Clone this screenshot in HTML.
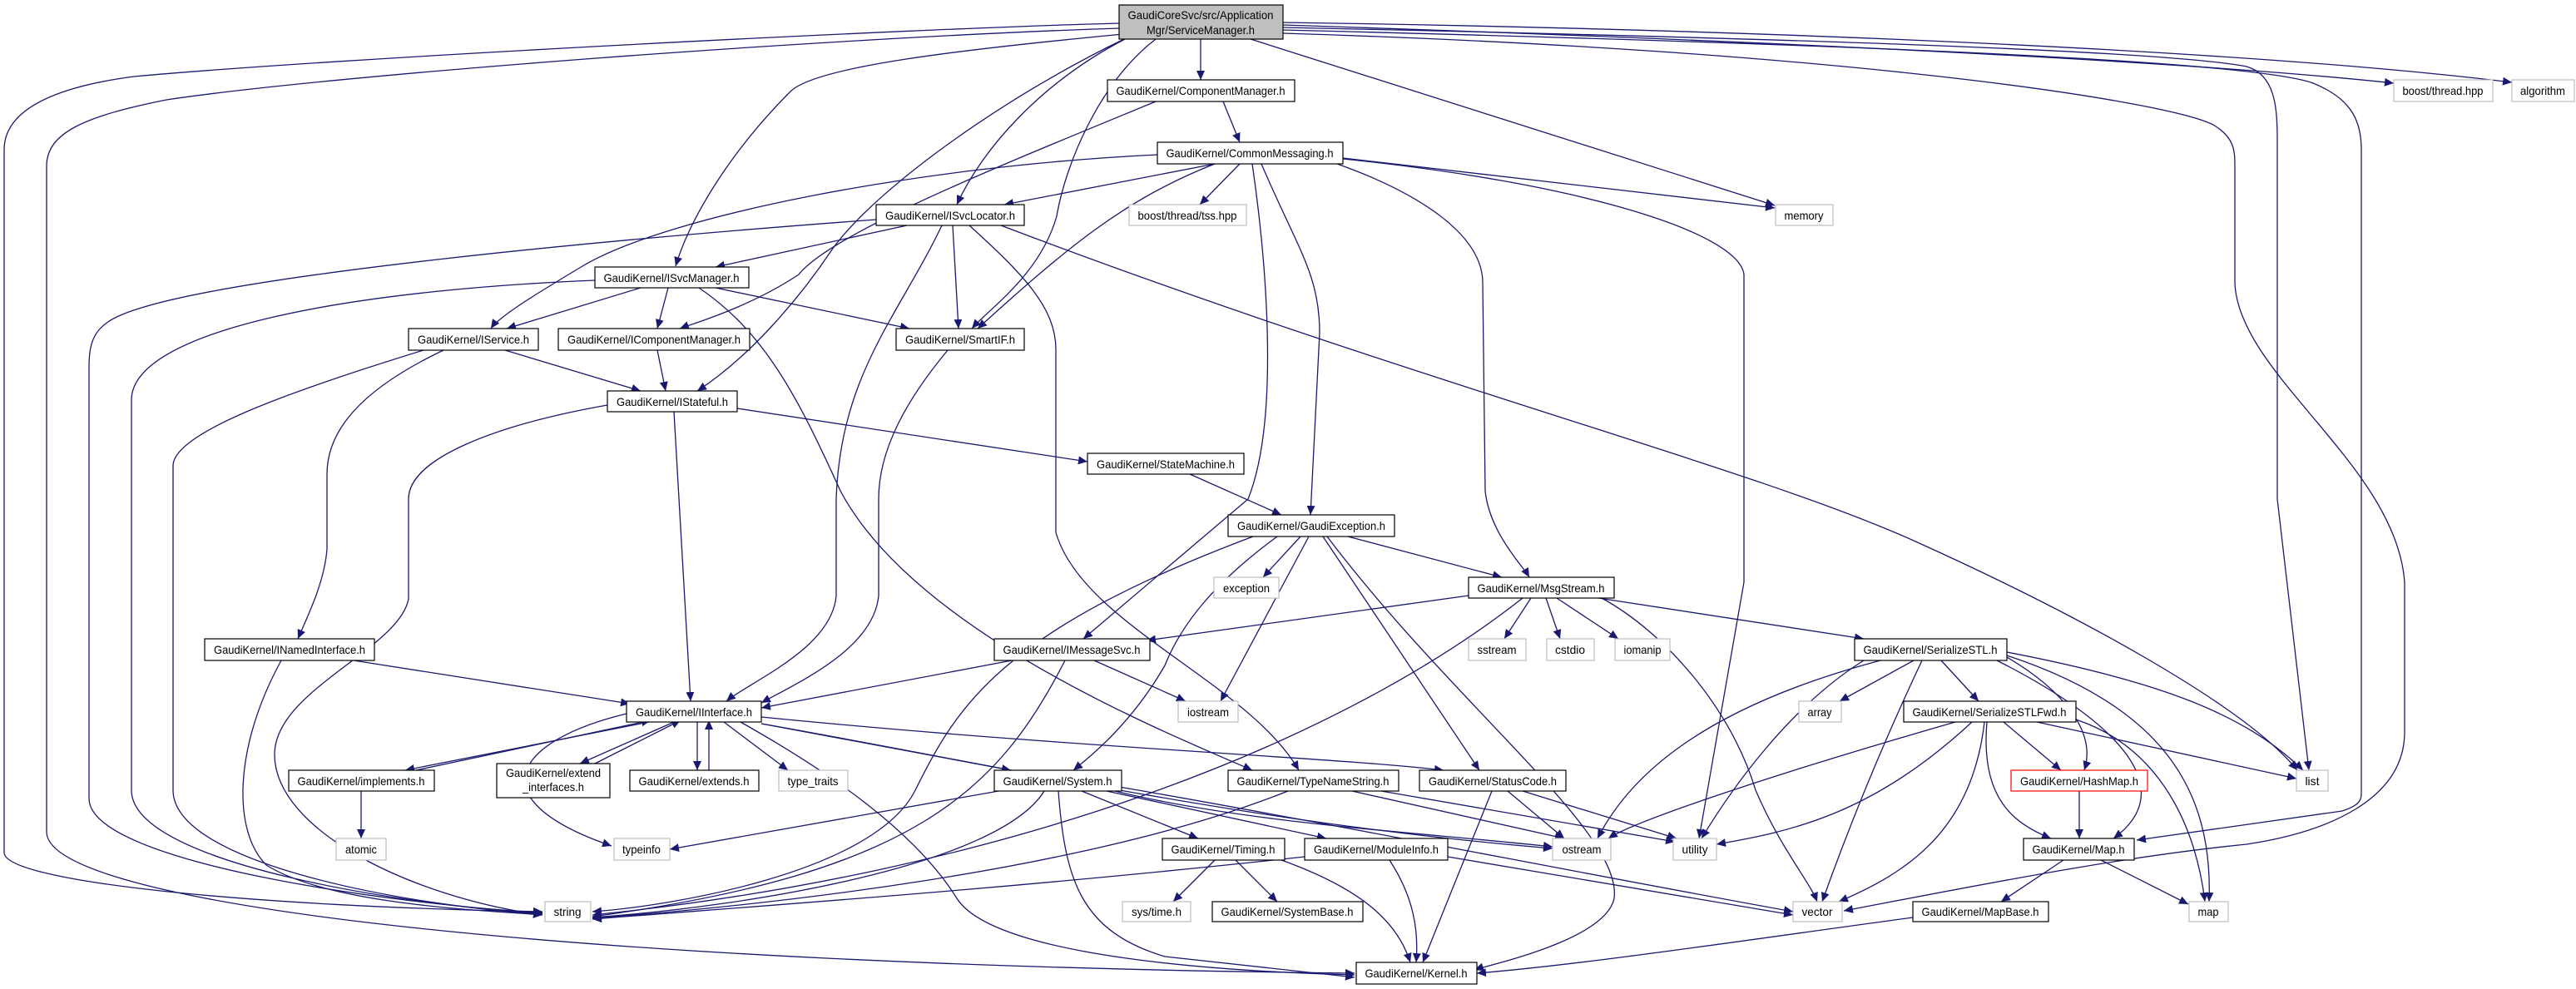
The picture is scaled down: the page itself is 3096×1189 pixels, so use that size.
<!DOCTYPE html>
<html><head><meta charset="utf-8"><style>
html,body{margin:0;padding:0;background:#fff;}
svg{display:block;}
text{font-family:"Liberation Sans",sans-serif;font-size:14px;fill:#000;}
.e{fill:none;stroke:#191970;stroke-width:1.3;}
.n{fill:#fff;stroke:#000;stroke-width:1.2;}
.g{fill:#fff;stroke:#bfbfbf;stroke-width:1.2;}
</style></head><body>
<svg width="3096" height="1189" viewBox="0 0 3096 1189" xmlns="http://www.w3.org/2000/svg">
<defs><marker id="a" markerUnits="userSpaceOnUse" markerWidth="12" markerHeight="10" refX="11" refY="5" orient="auto"><path d="M0,0 L11,5 L0,10 z" fill="#191970"/></marker></defs>
<g class="e" marker-end="url(#a)">
<path d="M1345,28 C1100,34 400,70 161,92 C100,100 5,120 5,180 L5,1025 C5,1060 300,1090 652,1096"/>
<path d="M1345,34 C1000,45 400,90 200,120 C100,140 56,160 56,200 L56,1000 C56,1090 700,1160 1628,1170"/>
<path d="M1360,40 C1150,60 980,80 950,110 C880,180 830,260 812,320"/>
<path d="M1352,47 C1250,100 1180,180 1150,246"/>
<path d="M1389,47 C1320,100 1280,200 1270,260 C1250,330 1190,370 1168,395"/>
<path d="M1351,47 C1200,120 1050,230 1000,300 C960,360 900,430 838,470"/>
<path d="M1443,47 L1443,96"/>
<path d="M1503,47 L2133,247"/>
<path d="M1542,30 C2000,45 2600,70 2877,100"/>
<path d="M1542,27 C2100,35 2700,60 3019,99"/>
<path d="M1542,33 C2100,45 2600,60 2700,80 C2735,90 2737,130 2737,170 L2737,600 L2775,926"/>
<path d="M1542,36 C2100,50 2700,70 2780,100 C2830,120 2838,150 2838,180 L2838,955 C2838,965 2830,970 2815,975 L2568,1010"/>
<path d="M1542,40 C2200,60 2600,120 2660,150 C2685,165 2686,180 2686,200 L2686,340 C2690,450 2880,560 2890,700 L2890,880 C2890,960 2800,1000 2700,1015 C2550,1030 2400,1060 2216,1095"/>
<path d="M1470,122 L1490,171"/>
<path d="M1389,122 C1200,200 1000,280 960,330 C900,370 830,390 817,395"/>
<path d="M1460,197 L1207,246"/>
<path d="M1490,197 L1442,246"/>
<path d="M1460,197 C1350,240 1280,300 1175,395"/>
<path d="M1614,190 L2133,250"/>
<path d="M1391,186 C1100,200 800,260 700,320 C650,350 600,380 590,395"/>
<path d="M1505,197 C1520,300 1540,500 1500,600 L1302,768"/>
<path d="M1516,197 C1560,300 1586,330 1586,400 L1575,619"/>
<path d="M1607,197 C1700,230 1782,280 1782,340 L1785,590 C1790,640 1830,680 1838,694"/>
<path d="M1614,191 C1900,220 2090,280 2096,330 L2096,700 L2042,1008"/>
<path d="M1090,271 L860,321"/>
<path d="M1145,271 L1152,395"/>
<path d="M1132,271 C1080,380 1010,450 1005,600 L1005,716 C1000,780 900,820 873,843"/>
<path d="M1165,271 C1230,330 1269,370 1269,420 L1269,640 C1300,750 1500,820 1561,926"/>
<path d="M1053,264 C700,290 300,330 170,370 C120,385 107,400 107,440 L107,960 C107,1040 500,1090 652,1097"/>
<path d="M1203,271 C1700,460 2100,560 2300,650 C2500,740 2700,850 2761,926"/>
<path d="M770,346 L609,395"/>
<path d="M803,346 L790,395"/>
<path d="M860,346 L1093,395"/>
<path d="M715,337 C400,350 160,400 158,480 L158,950 C158,1040 500,1090 652,1098"/>
<path d="M840,346 C920,400 960,480 1010,590 C1100,760 1400,880 1505,926"/>
<path d="M607,421 L770,470"/>
<path d="M533,421 C430,470 393,520 393,570 L393,660 C390,700 370,740 358,768"/>
<path d="M509,421 C350,470 208,520 208,560 L208,950 C208,1040 500,1090 652,1099"/>
<path d="M790,421 L800,470"/>
<path d="M1139,421 C1090,480 1056,540 1056,600 L1056,716 C1050,780 960,820 915,845"/>
<path d="M810,495 L830,843"/>
<path d="M730,487 C600,510 491,550 491,600 L491,720 C480,780 330,830 330,907 C330,1000 500,1080 652,1100"/>
<path d="M886,491 L1307,555"/>
<path d="M1430,570 L1540,619"/>
<path d="M1563,645 L1518,694"/>
<path d="M1620,645 L1805,694"/>
<path d="M1573,645 L1467,843"/>
<path d="M1535,645 C1460,700 1420,750 1400,800 C1360,870 1310,910 1290,926"/>
<path d="M1590,645 L1778,926"/>
<path d="M1595,645 C1750,850 1950,1000 1940,1080 C1930,1130 1790,1160 1772,1166"/>
<path d="M1506,645 C1200,760 1150,850 1100,950 C1050,1050 800,1090 712,1096"/>
<path d="M1765,716 L1378,770"/>
<path d="M1840,719 L1808,768"/>
<path d="M1858,719 L1875,768"/>
<path d="M1871,719 L1945,768"/>
<path d="M1921,719 L2240,768"/>
<path d="M1830,719 C1600,900 1200,1050 712,1100"/>
<path d="M1925,719 C2000,760 2080,850 2110,950 C2140,1020 2175,1060 2184,1084"/>
<path d="M425,794 L757,846"/>
<path d="M338,794 C280,900 280,1000 320,1040 C400,1090 600,1095 652,1100"/>
<path d="M1216,794 L915,851"/>
<path d="M1315,794 L1425,843"/>
<path d="M1280,794 C1200,950 1100,1050 712,1102"/>
<path d="M780,868 L487,926"/>
<path d="M500,926 L782,866"/>
<path d="M810,868 L697,918"/>
<path d="M715,918 L818,866"/>
<path d="M838,868 L838,926"/>
<path d="M852,926 L852,866"/>
<path d="M870,868 L947,926"/>
<path d="M753,858 C620,890 570,960 735,1017"/>
<path d="M915,870 L1215,926"/>
<path d="M915,862 C1300,900 1600,910 1735,926"/>
<path d="M890,868 C1000,930 1100,1000 1150,1080 C1200,1160 1550,1170 1628,1172"/>
<path d="M915,870 C1200,920 1500,990 1866,1020"/>
<path d="M434,951 L434,1008"/>
<path d="M1200,951 L805,1021"/>
<path d="M1255,951 C1200,1040 900,1090 712,1103"/>
<path d="M1300,951 L1440,1008"/>
<path d="M1330,951 L1594,1008"/>
<path d="M1272,951 C1280,1060 1300,1120 1400,1150 L1628,1175"/>
<path d="M1340,951 C1500,990 1700,1000 1866,1018"/>
<path d="M1345,946 C1600,990 1900,1050 2155,1096"/>
<path d="M1548,951 C1300,1050 900,1090 712,1104"/>
<path d="M1625,951 L1880,1008"/>
<path d="M1660,951 L2013,1012"/>
<path d="M1812,951 L1880,1008"/>
<path d="M1830,951 L2015,1008"/>
<path d="M1793,951 L1710,1157"/>
<path d="M1460,1034 L1410,1084"/>
<path d="M1485,1034 L1535,1084"/>
<path d="M1540,1034 C1640,1070 1680,1110 1695,1157"/>
<path d="M1568,1030 C1200,1070 900,1090 712,1105"/>
<path d="M1670,1034 C1700,1080 1705,1120 1702,1157"/>
<path d="M1740,1030 L2155,1100"/>
<path d="M2300,794 L2211,843"/>
<path d="M2333,794 L2378,843"/>
<path d="M2412,790 C2480,830 2520,880 2505,926"/>
<path d="M2412,784 C2600,820 2700,860 2768,926"/>
<path d="M2412,788 C2600,850 2660,950 2655,1084"/>
<path d="M2400,794 C2550,870 2620,950 2540,1008"/>
<path d="M2260,794 C2050,850 1960,930 1920,1008"/>
<path d="M2240,794 C2150,850 2080,950 2045,1008"/>
<path d="M2310,794 C2260,900 2220,1000 2190,1084"/>
<path d="M2408,868 L2477,926"/>
<path d="M2388,868 C2380,960 2420,990 2465,1008"/>
<path d="M2448,868 L2760,936"/>
<path d="M2495,865 C2600,900 2640,1000 2650,1084"/>
<path d="M2350,868 C2100,940 1960,990 1933,1008"/>
<path d="M2370,868 C2250,980 2150,1000 2063,1015"/>
<path d="M2385,868 C2370,1000 2290,1050 2210,1084"/>
<path d="M2499,951 L2499,1008"/>
<path d="M2480,1034 L2405,1084"/>
<path d="M2525,1034 L2630,1087"/>
<path d="M2299,1103 C2100,1130 1900,1160 1775,1170"/>
</g>
<g text-anchor="middle">
<rect x="1345" y="6" width="197" height="41" fill="#bfbfbf" stroke="#000" stroke-width="1.2"/>
<text x="1443" y="23" textLength="175" lengthAdjust="spacingAndGlyphs">GaudiCoreSvc/src/Application</text>
<text x="1443" y="41" textLength="130" lengthAdjust="spacingAndGlyphs">Mgr/ServiceManager.h</text>

<rect class="n" x="1331" y="96" width="225" height="26"/><text x="1443" y="114" textLength="203" lengthAdjust="spacingAndGlyphs">GaudiKernel/ComponentManager.h</text>
<rect class="g" x="2877" y="96" width="119" height="26"/><text x="2936" y="114" textLength="97" lengthAdjust="spacingAndGlyphs">boost/thread.hpp</text>
<rect class="g" x="3019" y="96" width="75" height="26"/><text x="3056" y="114" textLength="54" lengthAdjust="spacingAndGlyphs">algorithm</text>
<rect class="n" x="1391" y="171" width="223" height="26"/><text x="1502" y="189" textLength="201" lengthAdjust="spacingAndGlyphs">GaudiKernel/CommonMessaging.h</text>
<rect class="n" x="1053" y="246" width="178" height="25"/><text x="1142" y="264" textLength="156" lengthAdjust="spacingAndGlyphs">GaudiKernel/ISvcLocator.h</text>
<rect class="g" x="1357" y="246" width="141" height="25"/><text x="1427" y="264" textLength="119" lengthAdjust="spacingAndGlyphs">boost/thread/tss.hpp</text>
<rect class="g" x="2134" y="246" width="69" height="25"/><text x="2168" y="264" textLength="47" lengthAdjust="spacingAndGlyphs">memory</text>
<rect class="n" x="715" y="321" width="185" height="25"/><text x="807" y="339" textLength="163" lengthAdjust="spacingAndGlyphs">GaudiKernel/ISvcManager.h</text>
<rect class="n" x="491" y="395" width="156" height="26"/><text x="569" y="413" textLength="134" lengthAdjust="spacingAndGlyphs">GaudiKernel/IService.h</text>
<rect class="n" x="671" y="395" width="230" height="26"/><text x="786" y="413" textLength="208" lengthAdjust="spacingAndGlyphs">GaudiKernel/IComponentManager.h</text>
<rect class="n" x="1077" y="395" width="154" height="26"/><text x="1154" y="413" textLength="132" lengthAdjust="spacingAndGlyphs">GaudiKernel/SmartIF.h</text>
<rect class="n" x="730" y="470" width="156" height="25"/><text x="808" y="488" textLength="134" lengthAdjust="spacingAndGlyphs">GaudiKernel/IStateful.h</text>
<rect class="n" x="1307" y="545" width="188" height="25"/><text x="1401" y="563" textLength="166" lengthAdjust="spacingAndGlyphs">GaudiKernel/StateMachine.h</text>
<rect class="n" x="1476" y="619" width="200" height="26"/><text x="1576" y="637" textLength="178" lengthAdjust="spacingAndGlyphs">GaudiKernel/GaudiException.h</text>
<rect class="g" x="1459" y="694" width="78" height="25"/><text x="1498" y="712" textLength="56" lengthAdjust="spacingAndGlyphs">exception</text>
<rect class="n" x="1765" y="694" width="175" height="25"/><text x="1852" y="712" textLength="153" lengthAdjust="spacingAndGlyphs">GaudiKernel/MsgStream.h</text>
<rect class="n" x="246" y="768" width="204" height="26"/><text x="348" y="786" textLength="182" lengthAdjust="spacingAndGlyphs">GaudiKernel/INamedInterface.h</text>
<rect class="n" x="1195" y="768" width="187" height="26"/><text x="1288" y="786" textLength="165" lengthAdjust="spacingAndGlyphs">GaudiKernel/IMessageSvc.h</text>
<rect class="g" x="1765" y="768" width="69" height="26"/><text x="1799" y="786" textLength="47" lengthAdjust="spacingAndGlyphs">sstream</text>
<rect class="g" x="1859" y="768" width="57" height="26"/><text x="1887" y="786" textLength="36" lengthAdjust="spacingAndGlyphs">cstdio</text>
<rect class="g" x="1941" y="768" width="66" height="26"/><text x="1974" y="786" textLength="45" lengthAdjust="spacingAndGlyphs">iomanip</text>
<rect class="n" x="2229" y="768" width="183" height="26"/><text x="2320" y="786" textLength="161" lengthAdjust="spacingAndGlyphs">GaudiKernel/SerializeSTL.h</text>
<rect class="n" x="753" y="843" width="162" height="25"/><text x="834" y="861" textLength="140" lengthAdjust="spacingAndGlyphs">GaudiKernel/IInterface.h</text>
<rect class="g" x="1416" y="843" width="72" height="25"/><text x="1452" y="861" textLength="50" lengthAdjust="spacingAndGlyphs">iostream</text>
<rect class="g" x="2162" y="843" width="51" height="25"/><text x="2187" y="861" textLength="29" lengthAdjust="spacingAndGlyphs">array</text>
<rect class="n" x="2288" y="843" width="207" height="25"/><text x="2391" y="861" textLength="185" lengthAdjust="spacingAndGlyphs">GaudiKernel/SerializeSTLFwd.h</text>
<rect class="n" x="347" y="926" width="175" height="25"/><text x="434" y="944" textLength="153" lengthAdjust="spacingAndGlyphs">GaudiKernel/implements.h</text>
<rect class="n" x="597" y="918" width="136" height="41"/><text x="665" y="934" textLength="114" lengthAdjust="spacingAndGlyphs">GaudiKernel/extend</text><text x="665" y="951" textLength="74" lengthAdjust="spacingAndGlyphs">_interfaces.h</text>
<rect class="n" x="757" y="926" width="155" height="25"/><text x="834" y="944" textLength="133" lengthAdjust="spacingAndGlyphs">GaudiKernel/extends.h</text>
<rect class="g" x="936" y="926" width="83" height="25"/><text x="977" y="944" textLength="61" lengthAdjust="spacingAndGlyphs">type_traits</text>
<rect class="n" x="1195" y="926" width="153" height="25"/><text x="1271" y="944" textLength="131" lengthAdjust="spacingAndGlyphs">GaudiKernel/System.h</text>
<rect class="n" x="1476" y="926" width="205" height="25"/><text x="1578" y="944" textLength="183" lengthAdjust="spacingAndGlyphs">GaudiKernel/TypeNameString.h</text>
<rect class="n" x="1706" y="926" width="176" height="25"/><text x="1794" y="944" textLength="154" lengthAdjust="spacingAndGlyphs">GaudiKernel/StatusCode.h</text>
<rect x="2417" y="926" width="164" height="25" fill="#fff" stroke="#ff0000" stroke-width="1.2"/><text x="2499" y="944" textLength="142" lengthAdjust="spacingAndGlyphs">GaudiKernel/HashMap.h</text>
<rect class="g" x="2760" y="926" width="38" height="25"/><text x="2779" y="944">list</text>
<rect class="g" x="404" y="1008" width="60" height="26"/><text x="434" y="1026" textLength="38" lengthAdjust="spacingAndGlyphs">atomic</text>
<rect class="g" x="738" y="1008" width="67" height="26"/><text x="771" y="1026" textLength="46" lengthAdjust="spacingAndGlyphs">typeinfo</text>
<rect class="n" x="1397" y="1008" width="147" height="26"/><text x="1470" y="1026" textLength="125" lengthAdjust="spacingAndGlyphs">GaudiKernel/Timing.h</text>
<rect class="n" x="1568" y="1008" width="172" height="26"/><text x="1654" y="1026" textLength="150" lengthAdjust="spacingAndGlyphs">GaudiKernel/ModuleInfo.h</text>
<rect class="g" x="1866" y="1008" width="70" height="26"/><text x="1901" y="1026" textLength="47" lengthAdjust="spacingAndGlyphs">ostream</text>
<rect class="g" x="2011" y="1008" width="52" height="26"/><text x="2037" y="1026" textLength="31" lengthAdjust="spacingAndGlyphs">utility</text>
<rect class="n" x="2432" y="1008" width="133" height="26"/><text x="2498" y="1026" textLength="111" lengthAdjust="spacingAndGlyphs">GaudiKernel/Map.h</text>
<rect class="g" x="655" y="1084" width="55" height="24"/><text x="682" y="1101" textLength="33" lengthAdjust="spacingAndGlyphs">string</text>
<rect class="g" x="1349" y="1084" width="82" height="24"/><text x="1390" y="1101" textLength="60" lengthAdjust="spacingAndGlyphs">sys/time.h</text>
<rect class="n" x="1457" y="1084" width="181" height="24"/><text x="1547" y="1101" textLength="159" lengthAdjust="spacingAndGlyphs">GaudiKernel/SystemBase.h</text>
<rect class="g" x="2155" y="1084" width="59" height="24"/><text x="2184" y="1101" textLength="37" lengthAdjust="spacingAndGlyphs">vector</text>
<rect class="n" x="2299" y="1084" width="163" height="24"/><text x="2380" y="1101" textLength="141" lengthAdjust="spacingAndGlyphs">GaudiKernel/MapBase.h</text>
<rect class="g" x="2631" y="1084" width="47" height="24"/><text x="2654" y="1101" textLength="25" lengthAdjust="spacingAndGlyphs">map</text>
<rect class="n" x="1630" y="1157" width="145" height="26"/><text x="1702" y="1175" textLength="123" lengthAdjust="spacingAndGlyphs">GaudiKernel/Kernel.h</text>
</g>
</svg>
</body></html>
